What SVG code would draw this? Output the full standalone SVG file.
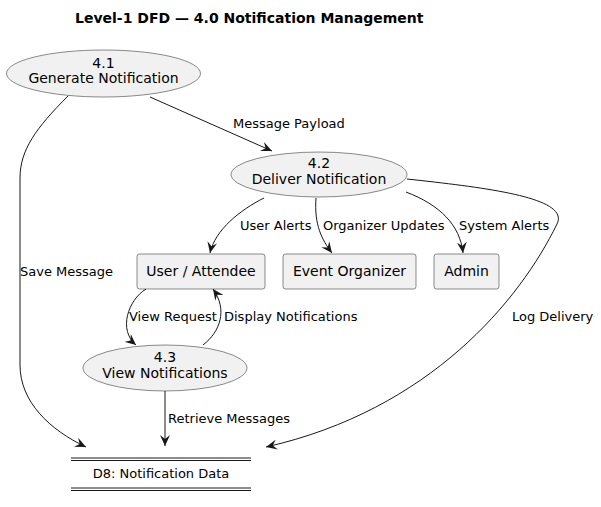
<svg xmlns="http://www.w3.org/2000/svg" width="601" height="507" viewBox="0 0 601 507">
<style>
text{font-family:"DejaVu Sans",sans-serif;fill:#000}
.t{font-size:14px;font-weight:bold}
.n{font-size:14px;text-anchor:middle}
.l{font-size:13px}
.sh{fill:#F1F1F1;stroke:#181818;stroke-width:0.5}
.c{fill:none;stroke:#181818;stroke-width:1}
.ds{stroke:#181818;stroke-width:1}
</style>
<defs>
<marker id="a" markerWidth="12" markerHeight="10" refX="11" refY="5" orient="auto" markerUnits="userSpaceOnUse">
<path d="M0,0 L11,5 L0,10 L4,5 Z" fill="#181818"/>
</marker>
</defs>
<rect width="601" height="507" fill="#fff"/>
<text class="t" x="75" y="23">Level-1 DFD — 4.0 Notification Management</text>
<g id="connectors">
<path class="c" marker-end="url(#a)" d="M150,97 L272,151"/>
<text class="l" x="233" y="128">Message Payload</text>
<path class="c" marker-end="url(#a)" d="M68,96 C36,128 20,150 20,178 L20,365 C20,402 50,430 86,447"/>
<text class="l" x="20" y="276">Save Message</text>
<path class="c" marker-end="url(#a)" d="M264,198 C240,210 215,230 210,253"/>
<text class="l" x="240" y="230">User Alerts</text>
<path class="c" marker-end="url(#a)" d="M316,198 C314,225 322,240 332,253"/>
<text class="l" x="323" y="230">Organizer Updates</text>
<path class="c" marker-end="url(#a)" d="M406,192 C440,205 460,225 463,253"/>
<text class="l" x="459" y="230">System Alerts</text>
<path class="c" marker-end="url(#a)" d="M407,179 C490,188 570,198 557,224 C520,300 430,410 266,447"/>
<text class="l" x="512" y="321">Log Delivery</text>
<path class="c" marker-end="url(#a)" d="M146,289 C128,300 118,330 136,345"/>
<text class="l" x="129" y="321">View Request</text>
<path class="c" marker-end="url(#a)" d="M203,345 C220,332 228,310 213,289"/>
<text class="l" x="224" y="321">Display Notifications</text>
<path class="c" marker-end="url(#a)" d="M165,391 L165,446"/>
<text class="l" x="168" y="423">Retrieve Messages</text>
</g>
<g id="p41">
<ellipse class="sh" cx="103.5" cy="73.5" rx="97" ry="23.5"/>
<text class="n" x="103.5" y="68">4.1</text>
<text class="n" x="103.5" y="83">Generate Notification</text>
</g>
<g id="p42">
<ellipse class="sh" cx="319" cy="174.5" rx="88" ry="22.5"/>
<text class="n" x="319" y="168">4.2</text>
<text class="n" x="319" y="184">Deliver Notification</text>
</g>
<g id="userAttendee">
<rect class="sh" x="137" y="254" width="128" height="35" rx="2.5"/>
<text class="n" x="201" y="276">User / Attendee</text>
</g>
<g id="eventOrganizer">
<rect class="sh" x="283" y="254" width="133" height="35" rx="2.5"/>
<text class="n" x="349.5" y="276">Event Organizer</text>
</g>
<g id="admin">
<rect class="sh" x="434" y="254" width="65" height="35" rx="2.5"/>
<text class="n" x="466.5" y="276">Admin</text>
</g>
<g id="p43">
<ellipse class="sh" cx="165" cy="368" rx="82" ry="23"/>
<text class="n" x="165" y="362">4.3</text>
<text class="n" x="165" y="378">View Notifications</text>
</g>
<g id="d8">
<line class="ds" x1="71" y1="458" x2="251" y2="458"/>
<line class="ds" x1="71" y1="460.5" x2="251" y2="460.5"/>
<line class="ds" x1="71" y1="488" x2="251" y2="488"/>
<line class="ds" x1="71" y1="490.5" x2="251" y2="490.5"/>
<text class="l" x="161" y="478" text-anchor="middle">D8: Notification Data</text>
</g>
</svg>
